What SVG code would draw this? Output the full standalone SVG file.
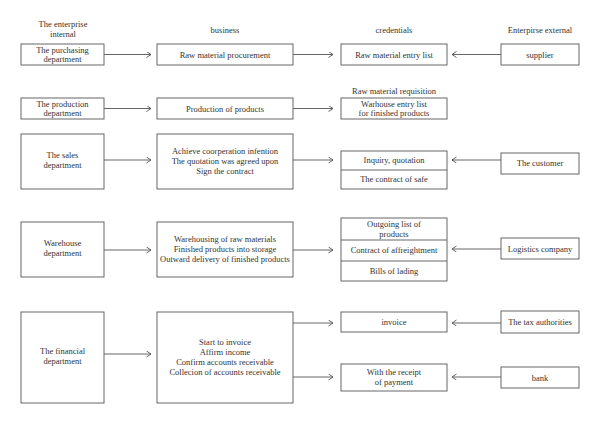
<svg xmlns="http://www.w3.org/2000/svg" width="600" height="425" viewBox="0 0 600 425">
<defs>
<marker id="ah" markerWidth="8" markerHeight="8" refX="5" refY="3" orient="auto" markerUnits="userSpaceOnUse">
<path d="M0.5,0 L5,3 L0.5,6" fill="none" stroke="#555" stroke-width="0.9"/>
</marker>
<style>
rect{fill:#fff;stroke:#666;stroke-width:1}
.dv{stroke:#666;stroke-width:1}
text{font-family:"Liberation Serif","Times New Roman",serif;font-size:8.5px;fill:#333;text-anchor:middle}
.c line{stroke:#666;stroke-width:1;marker-end:url(#ah)}
</style>
</defs>
<rect x="0" y="0" width="600" height="425" style="stroke:none"/>
<g id="headers">
<text x="63" y="27">The enterprise</text>
<text x="63" y="37">internal</text>
<text x="225" y="33">business</text>
<text x="394" y="33">credentials</text>
<text x="540" y="33">Enterpirse external</text>
<text x="394" y="94">Raw material requisition</text>
</g>
<g id="purchasing"><rect x="21" y="44" width="83" height="21"/><text x="62.5" y="52.5">The purchasing</text><text x="62.5" y="62">department</text></g>
<g id="procurement"><rect x="157" y="44" width="136" height="21"/><text x="225" y="57.5">Raw material procurement</text></g>
<g id="entrylist"><rect x="341" y="44" width="106" height="21"/><text x="394" y="57.5">Raw material entry list</text></g>
<g id="supplier"><rect x="501" y="44" width="78" height="21"/><text x="540" y="57.5">supplier</text></g>
<g id="production"><rect x="21" y="98" width="83" height="21"/><text x="62.5" y="106.5">The production</text><text x="62.5" y="116">department</text></g>
<g id="productionbiz"><rect x="157" y="98" width="136" height="21"/><text x="225" y="111.5">Production of products</text></g>
<g id="warhouselist"><rect x="341" y="98" width="106" height="21"/><text x="394" y="106.5">Warhouse entry list</text><text x="394" y="116">for finished products</text></g>
<g id="sales"><rect x="21" y="134" width="83" height="55"/><text x="62.5" y="158">The sales</text><text x="62.5" y="168">department</text></g>
<g id="salesbiz"><rect x="157" y="134" width="136" height="55"/><text x="225" y="154">Achieve coorperation infention</text><text x="225" y="164">The quotation was agreed upon</text><text x="225" y="174">Sign the contract</text></g>
<g id="salescred"><rect x="341" y="151" width="106" height="38"/><line class="dv" x1="341" y1="170" x2="447" y2="170"/><text x="394" y="163">Inquiry, quotation</text><text x="394" y="182">The contract of safe</text></g>
<g id="customer"><rect x="501" y="153" width="78" height="21"/><text x="540" y="166">The customer</text></g>
<g id="warehouse"><rect x="21" y="222" width="83" height="55"/><text x="62.5" y="246">Warehouse</text><text x="62.5" y="256">department</text></g>
<g id="warehousebiz"><rect x="157" y="222" width="136" height="55"/><text x="225" y="242">Warehousing of raw materials</text><text x="225" y="252">Finished products into storage</text><text x="225" y="262">Outward delivery of finished products</text></g>
<g id="warehousecred"><rect x="341" y="218" width="106" height="63"/><line class="dv" x1="341" y1="240" x2="447" y2="240"/><line class="dv" x1="341" y1="261" x2="447" y2="261"/><text x="394" y="227">Outgoing list of</text><text x="394" y="236.5">products</text><text x="394" y="253">Contract of affreightment</text><text x="394" y="274">Bills of lading</text></g>
<g id="logistics"><rect x="501" y="238" width="78" height="21"/><text x="540" y="251.5">Logistics company</text></g>
<g id="financial"><rect x="21" y="312" width="83" height="91"/><text x="62.5" y="354">The financial</text><text x="62.5" y="364">department</text></g>
<g id="financialbiz"><rect x="157" y="312" width="136" height="91"/><text x="225" y="345">Start to invoice</text><text x="225" y="355">Affirm income</text><text x="225" y="365">Confirm accounts receivable</text><text x="225" y="375">Collecion of accounts receivable</text></g>
<g id="invoice"><rect x="341" y="312" width="106" height="20"/><text x="394" y="325">invoice</text></g>
<g id="tax"><rect x="501" y="311" width="78" height="22"/><text x="540" y="325">The tax authorities</text></g>
<g id="receipt"><rect x="341" y="364" width="106" height="27"/><text x="394" y="375">With the receipt</text><text x="394" y="385">of payment</text></g>
<g id="bank"><rect x="501" y="367" width="78" height="21"/><text x="540" y="380.5">bank</text></g>
<g class="c" id="connectors">
<line x1="104" y1="54.5" x2="151" y2="54.5"/>
<line x1="293" y1="54.5" x2="333" y2="54.5"/>
<line x1="501" y1="54.5" x2="452" y2="54.5"/>
<line x1="104" y1="108.5" x2="151" y2="108.5"/>
<line x1="293" y1="108.5" x2="333" y2="108.5"/>
<line x1="104" y1="160" x2="151" y2="160"/>
<line x1="293" y1="160" x2="333" y2="160"/>
<line x1="501" y1="160" x2="452" y2="160"/>
<line x1="104" y1="250" x2="151" y2="250"/>
<line x1="293" y1="250" x2="333" y2="250"/>
<line x1="501" y1="249" x2="452" y2="249"/>
<line x1="104" y1="354" x2="151" y2="354"/>
<line x1="293" y1="323" x2="333" y2="323"/>
<line x1="501" y1="323" x2="452" y2="323"/>
<line x1="293" y1="377" x2="333" y2="377"/>
<line x1="501" y1="377" x2="452" y2="377"/>
</g>
</svg>
